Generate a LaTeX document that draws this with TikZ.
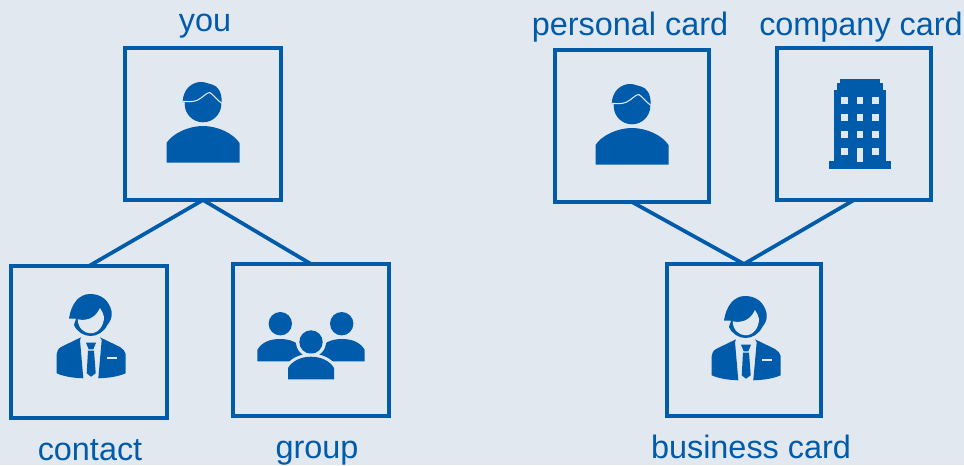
\documentclass[tikz,border=0pt]{standalone}
\usepackage{fontspec}
\setmainfont{Liberation Sans}
\definecolor{cardblue}{HTML}{005BAA}
\definecolor{paper}{HTML}{E2E8EF}
\tikzset{
	card/.style={rectangle,draw=cardblue,line width=3pt,outer sep=0pt,minimum width=117pt,minimum height=114pt},
	cardtext/.style={text=cardblue,font=\fontsize{24.3}{26}\selectfont,inner sep=0pt,anchor=base},
	link/.style={draw=cardblue,line width=2.8pt},
	personicon/.pic={
		\fill[cardblue] (0,-20) circle (18.3);
		\fill[cardblue] (-20.3,-22) .. controls (-20,-35) and (-11,-42) .. (-2,-42) .. controls (3,-42) and (5,-40) .. (9,-39.5) .. controls (15,-38) and (19,-32) .. (18.7,-21) -- cycle;
		\fill[cardblue] (-36.5,38.5) -- (-36.5,19) .. controls (-30,9) and (-14,2) .. (0,2) .. controls (14,2) and (30,9) .. (36.5,19) -- (36.5,38.5) -- cycle;
		\draw[paper,line width=0.8pt] (-20.3,-22.7) .. controls (-12,-22) and (-7,-22) .. (-2,-26) .. controls (2,-29) and (5,-32) .. (7,-31.3) .. controls (10,-30) and (14,-24) .. (18.7,-20.7);
	},
	suiticon/.pic={
		\fill[cardblue] (-20,-23.3) .. controls (-18,-38) and (-10,-48) .. (1,-48) .. controls (12,-48) and (20,-42) .. (22.7,-30.3) .. controls (23.5,-25) and (21,-20) .. (18.3,-17) .. controls (15,-10) and (8,-6) .. (1.7,-6) .. controls (-5,-6) and (-12,-10) .. (-15,-17) -- (-13,-23.3) -- cycle;
		\fill[paper] (-11.3,-22.7) .. controls (-3,-21) and (6,-23) .. (11,-34) .. controls (13,-31) and (14.5,-28) .. (15,-25) .. controls (15,-16) and (9,-8.7) .. (1.7,-8.7) .. controls (-5,-8.7) and (-11,-14) .. (-11.3,-22.7) -- cycle;
		\fill[cardblue] (-8,-4.7) -- (-28,5) .. controls (-31,7) and (-32,9) .. (-32.3,12) -- (-32.3,31.3) .. controls (-24,35) and (-14,36) .. (-5.7,36.3) -- (-9,-2) -- cycle;
		\fill[cardblue] (11,-4.7) -- (31,5) .. controls (34,7) and (36,9) .. (36.7,12) -- (36.7,31.3) .. controls (28,35) and (18,36) .. (9.3,36.3) -- (12.7,-2) -- cycle;
		\fill[cardblue] (-3,0.7) -- (7,0.7) -- (4.3,7.3) -- (-0.3,7.3) -- cycle;
		\fill[cardblue] (-1,8.7) -- (5,8.7) -- (6.7,31.3) -- (2,34.7) -- (-2.3,31.3) -- cycle;
		\fill[paper] (17.7,15.3) rectangle (27.7,17.3);
	},
	groupicon/.pic={
		\foreach \side in {-1,1}{
			\fill[cardblue] (\side*30.7,-16.3) circle (11.7);
			\fill[cardblue] (\side*53.7,21.3) -- (\side*53.7,10) .. controls (\side*50,3) and (\side*42,-1) .. (\side*31,-1) .. controls (\side*20,-1) and (\side*12,3) .. (\side*8,10) -- (\side*8,21.3) -- cycle;
		}
		\fill[paper] (0,2) circle (15);
		\fill[cardblue] (0,2) circle (11.7);
		\draw[paper,fill=paper,line width=4.5pt] (-23,39.3) -- (-23,28) .. controls (-19,21) and (-10,16.7) .. (0,16.7) .. controls (10,16.7) and (19,21) .. (23,28) -- (23,39.3) -- cycle;
		\fill[cardblue] (-23,39.3) -- (-23,28) .. controls (-19,21) and (-10,16.7) .. (0,16.7) .. controls (10,16.7) and (19,21) .. (23,28) -- (23,39.3) -- cycle;
	},
	buildingicon/.pic={
		\fill[cardblue] (-24.7,37.3) rectangle (36.7,44.7);
		\fill[cardblue] (-20.3,-34) rectangle (32.3,37.3);
		\fill[cardblue] (-17,-40.7) rectangle (29,-34);
		\fill[cardblue] (-13.7,-45) rectangle (25.7,-40.7);
		\foreach \row in {-23.7,-6.7,10.3,27.7}{
			\fill[paper] (-12.6,\row-3.3) rectangle ++(6.7,6.7);
			\fill[paper] (18,\row-3.3) rectangle ++(6.7,6.7);
		}
		\foreach \row in {-23.7,-6.7,10.3}
			\fill[paper] (2.7,\row-3.3) rectangle ++(6.7,6.7);
		\fill[paper] (2.7,24.3) rectangle (9.4,37.7);
	}
}
\begin{document}
\begin{tikzpicture}[x=0.75pt,y=-0.75pt]
	\fill[paper] (0,0) rectangle (964,465);
	\useasboundingbox (0,0) rectangle (964,465);

	\node[card] (you) at (203,124) {};
	\node[card] (contact) at (89,342) {};
	\node[card] (group) at (311,340) {};
	\node[card,minimum width=115.5pt] (personal) at (632,126) {};
	\node[card,minimum width=115.5pt] (company) at (854,124) {};
	\node[card,minimum width=115.5pt] (business) at (744,340) {};

	\pic at (you.center) {personicon};
	\pic at (contact.center) {suiticon};
	\pic at (group.center) {groupicon};
	\pic at (personal.center) {personicon};
	\pic at (company.center) {buildingicon};
	\pic at (744,344) {suiticon};

	\node[cardtext] (youtext) at (205,31) {you};
	\node[cardtext] (personaltext) at (630,35) {personal card};
	\node[cardtext] (companytext) at (861,35) {company card};
	\node[cardtext] (contacttext) at (90,460) {contact};
	\node[cardtext] (grouptext) at (317,458) {group};
	\node[cardtext] (businesstext) at (751,458) {business card};

	\draw[link] (you.south) -- (contact.north);
	\draw[link] (you.south) -- (group.north);
	\draw[link] (personal.south) -- (business.north);
	\draw[link] (company.south) -- (business.north);

\end{tikzpicture}
\end{document}
